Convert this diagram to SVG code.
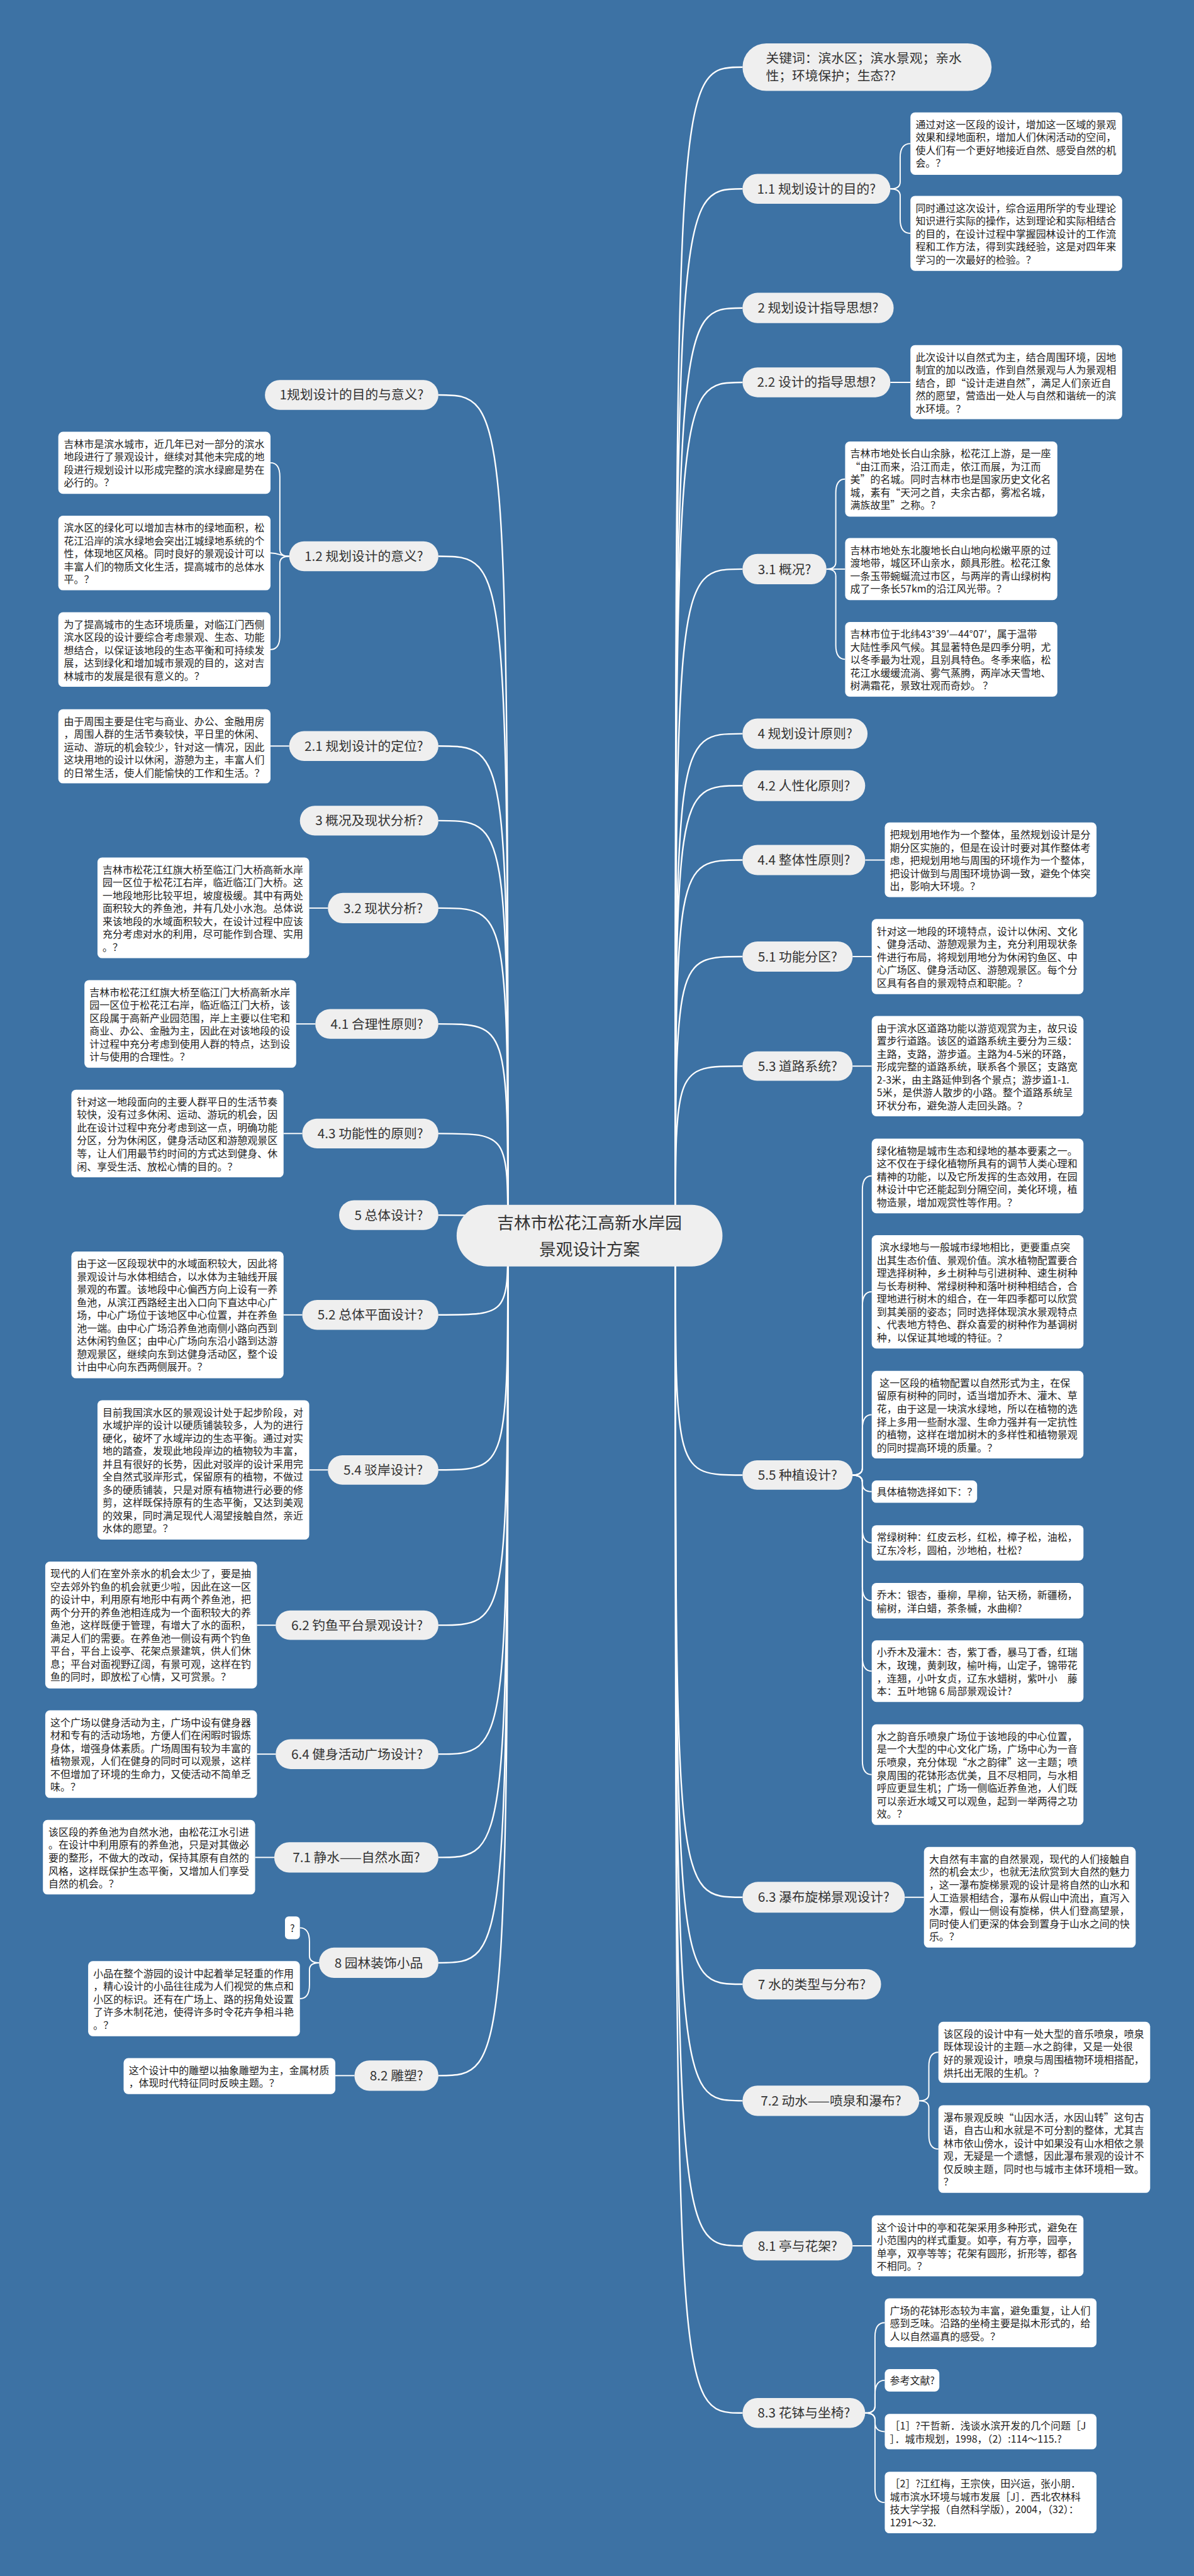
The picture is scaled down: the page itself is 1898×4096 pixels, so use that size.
<svg xmlns="http://www.w3.org/2000/svg" width="1898" height="4096" viewBox="0 0 1898 4096">
<style>
.main{fill:none;stroke:#fff;stroke-width:3.2}
.sub{fill:none;stroke:#fff;stroke-width:2.6}
.pill{fill:#efefef}
.leaf{fill:#fff}
.t1{font-family:"Noto Sans CJK SC","Noto Sans",sans-serif;font-size:28px;fill:#333;text-anchor:middle}
.tk{font-family:"Noto Sans CJK SC","Noto Sans",sans-serif;font-size:28px;fill:#333}
.tc{font-family:"Noto Sans CJK SC","Noto Sans",sans-serif;font-size:36px;fill:#333;text-anchor:middle}
.lt{font-family:"Noto Sans CJK SC","Noto Sans",sans-serif;font-size:21.5px;fill:#222}
</style>
<rect x="0" y="0" width="1898" height="4096" fill="#3d72a4"/>
<g transform="scale(0.74140625)">
<g id="connectors">
<path class="main" d="M1448,2650 C1448,144 1448,144 1592,144"/>
<path class="main" d="M1448,2650 C1448,405 1448,405 1592,405"/>
<path class="main" d="M1448,2650 C1448,660.5 1448,660.5 1592,660.5"/>
<path class="main" d="M1448,2650 C1448,820 1448,820 1592,820"/>
<path class="main" d="M1448,2650 C1448,1220.5 1448,1220.5 1592,1220.5"/>
<path class="main" d="M1448,2650 C1448,1573.5 1448,1573.5 1592,1573.5"/>
<path class="main" d="M1448,2650 C1448,1685 1448,1685 1592,1685"/>
<path class="main" d="M1448,2650 C1448,1844.5 1448,1844.5 1592,1844.5"/>
<path class="main" d="M1448,2650 C1448,2051.5 1448,2051.5 1592,2051.5"/>
<path class="main" d="M1448,2650 C1448,2286.5 1448,2286.5 1592,2286.5"/>
<path class="main" d="M1448,2650 C1448,3163.5 1448,3163.5 1592,3163.5"/>
<path class="main" d="M1448,2650 C1448,4069 1448,4069 1592,4069"/>
<path class="main" d="M1448,2650 C1448,4255.5 1448,4255.5 1592,4255.5"/>
<path class="main" d="M1448,2650 C1448,4505.5 1448,4505.5 1592,4505.5"/>
<path class="main" d="M1448,2650 C1448,4816.5 1448,4816.5 1592,4816.5"/>
<path class="main" d="M1448,2650 C1448,5175 1448,5175 1592,5175"/>
<path class="main" d="M1089,2650 C1089,847 1089,847 940,847"/>
<path class="main" d="M1089,2650 C1089,1193 1089,1193 940,1193"/>
<path class="main" d="M1089,2650 C1089,1600 1089,1600 940,1600"/>
<path class="main" d="M1089,2650 C1089,1760 1089,1760 940,1760"/>
<path class="main" d="M1089,2650 C1089,1947.5 1089,1947.5 940,1947.5"/>
<path class="main" d="M1089,2650 C1089,2196 1089,2196 940,2196"/>
<path class="main" d="M1089,2650 C1089,2431 1089,2431 940,2431"/>
<path class="main" d="M1089,2650 C1089,2606 1089,2606 940,2606"/>
<path class="main" d="M1089,2650 C1089,2820 1089,2820 940,2820"/>
<path class="main" d="M1089,2650 C1089,3152.5 1089,3152.5 940,3152.5"/>
<path class="main" d="M1089,2650 C1089,3485.5 1089,3485.5 940,3485.5"/>
<path class="main" d="M1089,2650 C1089,3762 1089,3762 940,3762"/>
<path class="main" d="M1089,2650 C1089,3983.5 1089,3983.5 940,3983.5"/>
<path class="main" d="M1089,2650 C1089,4209.5 1089,4209.5 940,4209.5"/>
<path class="main" d="M1089,2650 C1089,4451.5 1089,4451.5 940,4451.5"/>
<path class="sub" d="M1909,405 Q1930,405 1930,390 L1930,338 Q1930,308 1952,308"/>
<path class="sub" d="M1909,405 Q1930,405 1930,420 L1930,470.5 Q1930,500.5 1952,500.5"/>
<path class="sub" d="M1909,820 L1952,820"/>
<path class="sub" d="M1772,1220.5 Q1792,1220.5 1792,1205.5 L1792,1057.5 Q1792,1027.5 1812,1027.5"/>
<path class="sub" d="M1772,1220.5 L1812,1220.5"/>
<path class="sub" d="M1772,1220.5 Q1792,1220.5 1792,1235.5 L1792,1384 Q1792,1414 1812,1414"/>
<path class="sub" d="M1855,1844.5 L1897,1844.5"/>
<path class="sub" d="M1828,2051.5 L1869,2051.5"/>
<path class="sub" d="M1828,2286.5 L1869,2286.5"/>
<path class="sub" d="M1828,3163.5 Q1849,3163.5 1849,3148.5 L1849,2552 Q1849,2522 1869,2522"/>
<path class="sub" d="M1828,3163.5 Q1849,3163.5 1849,3148.5 L1849,2800.5 Q1849,2770.5 1869,2770.5"/>
<path class="sub" d="M1828,3163.5 Q1849,3163.5 1849,3148.5 L1849,3064 Q1849,3034 1869,3034"/>
<path class="sub" d="M1828,3163.5 Q1849,3163.5 1849,3178.5 L1849,3181 Q1849,3199 1869,3199"/>
<path class="sub" d="M1828,3163.5 Q1849,3163.5 1849,3178.5 L1849,3279 Q1849,3309 1869,3309"/>
<path class="sub" d="M1828,3163.5 Q1849,3163.5 1849,3178.5 L1849,3403 Q1849,3433 1869,3433"/>
<path class="sub" d="M1828,3163.5 Q1849,3163.5 1849,3178.5 L1849,3554 Q1849,3584 1869,3584"/>
<path class="sub" d="M1828,3163.5 Q1849,3163.5 1849,3178.5 L1849,3776 Q1849,3806 1869,3806"/>
<path class="sub" d="M1940,4069 L1981,4069"/>
<path class="sub" d="M1971,4505.5 Q1991.5,4505.5 1991.5,4490.5 L1991.5,4431.5 Q1991.5,4401.5 2012,4401.5"/>
<path class="sub" d="M1971,4505.5 Q1991.5,4505.5 1991.5,4520.5 L1991.5,4579 Q1991.5,4609 2012,4609"/>
<path class="sub" d="M1828,4816.5 L1869,4816.5"/>
<path class="sub" d="M1855,5175 Q1876,5175 1876,5160 L1876,5011.5 Q1876,4981.5 1897,4981.5"/>
<path class="sub" d="M1855,5175 Q1876,5175 1876,5160 L1876,5135 Q1876,5105 1897,5105"/>
<path class="sub" d="M1855,5175 Q1876,5175 1876,5190 L1876,5195 Q1876,5215 1897,5215"/>
<path class="sub" d="M1855,5175 Q1876,5175 1876,5190 L1876,5337 Q1876,5367 1897,5367"/>
<path class="sub" d="M620,1193 Q600,1193 600,1178 L600,1022.5 Q600,992.5 580,992.5"/>
<path class="sub" d="M620,1193 C600,1193 600,1186 580,1186"/>
<path class="sub" d="M620,1193 Q600,1193 600,1208 L600,1363 Q600,1393 580,1393"/>
<path class="sub" d="M620,1600 L580,1600"/>
<path class="sub" d="M703,1947.5 L663,1947.5"/>
<path class="sub" d="M676,2196 L635,2196"/>
<path class="sub" d="M648,2431 L608,2431"/>
<path class="sub" d="M648,2820 L608,2820"/>
<path class="sub" d="M703,3152.5 L663,3152.5"/>
<path class="sub" d="M591,3485.5 L551,3485.5"/>
<path class="sub" d="M591,3762 L551,3762"/>
<path class="sub" d="M588,3983.5 L547,3983.5"/>
<path class="sub" d="M684,4209.5 Q663.5,4209.5 663.5,4194.5 L663.5,4164.5 Q663.5,4134.5 643,4134.5"/>
<path class="sub" d="M684,4209.5 Q663.5,4209.5 663.5,4224.5 L663.5,4256.5 Q663.5,4286.5 643,4286.5"/>
<path class="sub" d="M760,4451.5 L719,4451.5"/>
</g>

<g id="center">
<rect class="pill" x="979" y="2584" width="570" height="132" rx="66"/>
<text class="tc" x="1264" y="2636">吉林市松花江高新水岸园</text>
<text class="tc" x="1264" y="2692">景观设计方案</text>
</g>

<g id="n-keywords">
<rect class="pill" x="1592" y="93" width="534" height="102" rx="51"/>
<text class="tk" x="1642" y="135">关键词：滨水区；滨水景观；亲水</text>
<text class="tk" x="1642" y="173">性；环境保护；生态??</text>
</g>

<g id="n-1-1">
<rect class="pill" x="1592" y="373" width="317" height="64" rx="32"/>
<text class="t1" x="1750.5" y="415">1.1 规划设计的目的?</text>
</g>
<g id="l-1-1a">
<rect class="leaf" x="1952" y="241" width="454" height="134" rx="10"/>
<text class="lt" x="1963" y="275"><tspan x="1963">通过对这一区段的设计，增加这一区域的景观</tspan><tspan x="1963" dy="27.7">效果和绿地面积，增加人们休闲活动的空间，</tspan><tspan x="1963" dy="27.7">使人们有一个更好地接近自然、感受自然的机</tspan><tspan x="1963" dy="27.7">会。？</tspan></text>
</g>
<g id="l-1-1b">
<rect class="leaf" x="1952" y="420" width="454" height="161" rx="10"/>
<text class="lt" x="1963" y="454"><tspan x="1963">同时通过这次设计，综合运用所学的专业理论</tspan><tspan x="1963" dy="27.7">知识进行实际的操作，达到理论和实际相结合</tspan><tspan x="1963" dy="27.7">的目的，在设计过程中掌握园林设计的工作流</tspan><tspan x="1963" dy="27.7">程和工作方法，得到实践经验，这是对四年来</tspan><tspan x="1963" dy="27.7">学习的一次最好的检验。？</tspan></text>
</g>

<g id="n-2">
<rect class="pill" x="1592" y="628" width="324" height="65" rx="32"/>
<text class="t1" x="1754" y="671">2 规划设计指导思想?</text>
</g>

<g id="n-2-2">
<rect class="pill" x="1592" y="788" width="317" height="64" rx="32"/>
<text class="t1" x="1750.5" y="830">2.2 设计的指导思想?</text>
</g>
<g id="l-2-2">
<rect class="leaf" x="1952" y="740" width="454" height="159" rx="10"/>
<text class="lt" x="1963" y="774"><tspan x="1963">此次设计以自然式为主，结合周围环境，因地</tspan><tspan x="1963" dy="27.7">制宜的加以改造，作到自然景观与人为景观相</tspan><tspan x="1963" dy="27.7">结合，即“设计走进自然”，满足人们亲近自</tspan><tspan x="1963" dy="27.7">然的愿望，营造出一处人与自然和谐统一的滨</tspan><tspan x="1963" dy="27.7">水环境。？</tspan></text>
</g>

<g id="n-3-1">
<rect class="pill" x="1592" y="1188" width="180" height="65" rx="32"/>
<text class="t1" x="1682" y="1231">3.1 概况?</text>
</g>
<g id="l-3-1a">
<rect class="leaf" x="1812" y="947" width="455" height="161" rx="10"/>
<text class="lt" x="1823" y="981"><tspan x="1823">吉林市地处长白山余脉，松花江上游，是一座</tspan><tspan x="1823" dy="27.7">“由江而来，沿江而走，依江而展，为江而</tspan><tspan x="1823" dy="27.7">美”的名城。同时吉林市也是国家历史文化名</tspan><tspan x="1823" dy="27.7">城，素有“天河之首，夫余古都，雾凇名城，</tspan><tspan x="1823" dy="27.7">满族故里”之称。？</tspan></text>
</g>
<g id="l-3-1b">
<rect class="leaf" x="1812" y="1154" width="455" height="133" rx="10"/>
<text class="lt" x="1823" y="1188"><tspan x="1823">吉林市地处东北腹地长白山地向松嫩平原的过</tspan><tspan x="1823" dy="27.7">渡地带，城区环山亲水，颇具形胜。松花江象</tspan><tspan x="1823" dy="27.7">一条玉带蜿蜒流过市区，与两岸的青山绿树构</tspan><tspan x="1823" dy="27.7">成了一条长57km的沿江风光带。？</tspan></text>
</g>
<g id="l-3-1c">
<rect class="leaf" x="1812" y="1334" width="455" height="160" rx="10"/>
<text class="lt" x="1823" y="1368"><tspan x="1823">吉林市位于北纬43°39′—44°07′，属于温带</tspan><tspan x="1823" dy="27.7">大陆性季风气候。其显著特色是四季分明，尤</tspan><tspan x="1823" dy="27.7">以冬季最为壮观，且别具特色。冬季来临，松</tspan><tspan x="1823" dy="27.7">花江水缓缓流淌、雾气蒸腾，两岸冰天雪地、</tspan><tspan x="1823" dy="27.7">树满霜花，景致壮观而奇妙。 ？</tspan></text>
</g>

<g id="n-4">
<rect class="pill" x="1592" y="1541" width="268" height="65" rx="32"/>
<text class="t1" x="1726" y="1584">4 规划设计原则?</text>
</g>
<g id="n-4-2">
<rect class="pill" x="1592" y="1652" width="263" height="66" rx="33"/>
<text class="t1" x="1723.5" y="1695">4.2 人性化原则?</text>
</g>
<g id="n-4-4">
<rect class="pill" x="1592" y="1812" width="263" height="65" rx="32"/>
<text class="t1" x="1723.5" y="1855">4.4 整体性原则?</text>
</g>
<g id="l-4-4">
<rect class="leaf" x="1897" y="1764" width="454" height="160" rx="10"/>
<text class="lt" x="1908" y="1798"><tspan x="1908">把规划用地作为一个整体，虽然规划设计是分</tspan><tspan x="1908" dy="27.7">期分区实施的，但是在设计时要对其作整体考</tspan><tspan x="1908" dy="27.7">虑，把规划用地与周围的环境作为一个整体，</tspan><tspan x="1908" dy="27.7">把设计做到与周围环境协调一致，避免个体突</tspan><tspan x="1908" dy="27.7">出，影响大环境。？</tspan></text>
</g>

<g id="n-5-1">
<rect class="pill" x="1592" y="2019" width="236" height="65" rx="32"/>
<text class="t1" x="1710" y="2062">5.1 功能分区?</text>
</g>
<g id="l-5-1">
<rect class="leaf" x="1869" y="1971" width="454" height="161" rx="10"/>
<text class="lt" x="1880" y="2005"><tspan x="1880">针对这一地段的环境特点，设计以休闲、文化</tspan><tspan x="1880" dy="27.7">、健身活动、游憩观景为主，充分利用现状条</tspan><tspan x="1880" dy="27.7">件进行布局，将规划用地分为休闲钓鱼区、中</tspan><tspan x="1880" dy="27.7">心广场区、健身活动区、游憩观景区。每个分</tspan><tspan x="1880" dy="27.7">区具有各自的景观特点和职能。？</tspan></text>
</g>

<g id="n-5-3">
<rect class="pill" x="1592" y="2255" width="236" height="63" rx="31"/>
<text class="t1" x="1710" y="2297">5.3 道路系统?</text>
</g>
<g id="l-5-3">
<rect class="leaf" x="1869" y="2179" width="454" height="215" rx="10"/>
<text class="lt" x="1880" y="2213"><tspan x="1880">由于滨水区道路功能以游览观赏为主，故只设</tspan><tspan x="1880" dy="27.7">置步行道路。该区的道路系统主要分为三级：</tspan><tspan x="1880" dy="27.7">主路，支路，游步道。主路为4-5米的环路，</tspan><tspan x="1880" dy="27.7">形成完整的道路系统，联系各个景区；支路宽</tspan><tspan x="1880" dy="27.7">2-3米，由主路延伸到各个景点；游步道1-1.</tspan><tspan x="1880" dy="27.7">5米，是供游人散步的小路。整个道路系统呈</tspan><tspan x="1880" dy="27.7">环状分布，避免游人走回头路。？</tspan></text>
</g>

<g id="n-5-5">
<rect class="pill" x="1592" y="3132" width="236" height="63" rx="31"/>
<text class="t1" x="1710" y="3174">5.5 种植设计?</text>
</g>
<g id="l-5-5a">
<rect class="leaf" x="1869" y="2442" width="454" height="160" rx="10"/>
<text class="lt" x="1880" y="2476"><tspan x="1880">绿化植物是城市生态和绿地的基本要素之一。</tspan><tspan x="1880" dy="27.7">这不仅在于绿化植物所具有的调节人类心理和</tspan><tspan x="1880" dy="27.7">精神的功能，以及它所发挥的生态效用，在园</tspan><tspan x="1880" dy="27.7">林设计中它还能起到分隔空间，美化环境，植</tspan><tspan x="1880" dy="27.7">物造景，增加观赏性等作用。？</tspan></text>
</g>
<g id="l-5-5b">
<rect class="leaf" x="1869" y="2649" width="454" height="243" rx="10"/>
<text class="lt" x="1880" y="2683"><tspan x="1886">滨水绿地与一般城市绿地相比，更要重点突</tspan><tspan x="1880" dy="27.7">出其生态价值、景观价值。滨水植物配置要合</tspan><tspan x="1880" dy="27.7">理选择树种，乡土树种与引进树种、速生树种</tspan><tspan x="1880" dy="27.7">与长寿树种、常绿树种和落叶树种相结合，合</tspan><tspan x="1880" dy="27.7">理地进行树木的组合，在一年四季都可以欣赏</tspan><tspan x="1880" dy="27.7">到其美丽的姿态；同时选择体现滨水景观特点</tspan><tspan x="1880" dy="27.7">、代表地方特色、群众喜爱的树种作为基调树</tspan><tspan x="1880" dy="27.7">种，以保证其地域的特征。？</tspan></text>
</g>
<g id="l-5-5c">
<rect class="leaf" x="1869" y="2940" width="454" height="188" rx="10"/>
<text class="lt" x="1880" y="2974"><tspan x="1886">这一区段的植物配置以自然形式为主，在保</tspan><tspan x="1880" dy="27.7">留原有树种的同时，适当增加乔木、灌木、草</tspan><tspan x="1880" dy="27.7">花，由于这是一块滨水绿地，所以在植物的选</tspan><tspan x="1880" dy="27.7">择上多用一些耐水湿、生命力强并有一定抗性</tspan><tspan x="1880" dy="27.7">的植物，这样在增加树木的多样性和植物景观</tspan><tspan x="1880" dy="27.7">的同时提高环境的质量。？</tspan></text>
</g>
<g id="l-5-5d">
<rect class="leaf" x="1869" y="3175" width="226" height="48" rx="10"/>
<text class="lt" x="1880" y="3207">具体植物选择如下：？</text>
</g>
<g id="l-5-5e">
<rect class="leaf" x="1869" y="3271" width="454" height="76" rx="10"/>
<text class="lt" x="1880" y="3305"><tspan x="1880">常绿树种：红皮云杉，红松，樟子松，油松，</tspan><tspan x="1880" dy="27.7">辽东冷杉，圆柏，沙地柏，杜松?</tspan></text>
</g>
<g id="l-5-5f">
<rect class="leaf" x="1869" y="3395" width="454" height="76" rx="10"/>
<text class="lt" x="1880" y="3429"><tspan x="1880">乔木：银杏，垂柳，旱柳，钻天杨，新疆杨，</tspan><tspan x="1880" dy="27.7">榆树，洋白蜡，茶条槭，水曲柳?</tspan></text>
</g>
<g id="l-5-5g">
<rect class="leaf" x="1869" y="3518" width="454" height="132" rx="10"/>
<text class="lt" x="1880" y="3552"><tspan x="1880">小乔木及灌木：杏，紫丁香，暴马丁香，红瑞</tspan><tspan x="1880" dy="27.7">木，玫瑰，黄刺玫，榆叶梅，山定子，锦带花</tspan><tspan x="1880" dy="27.7">，连翘，小叶女贞，辽东水蜡树，紫叶小　藤</tspan><tspan x="1880" dy="27.7">本：五叶地锦 6 局部景观设计?</tspan></text>
</g>
<g id="l-5-5h">
<rect class="leaf" x="1869" y="3698" width="454" height="216" rx="10"/>
<text class="lt" x="1880" y="3732"><tspan x="1880">水之韵音乐喷泉广场位于该地段的中心位置，</tspan><tspan x="1880" dy="27.7">是一个大型的中心文化广场，广场中心为一音</tspan><tspan x="1880" dy="27.7">乐喷泉，充分体现“水之韵律”这一主题；喷</tspan><tspan x="1880" dy="27.7">泉周围的花钵形态优美，且不尽相同，与水相</tspan><tspan x="1880" dy="27.7">呼应更显生机；广场一侧临近养鱼池，人们既</tspan><tspan x="1880" dy="27.7">可以亲近水域又可以观鱼，起到一举两得之功</tspan><tspan x="1880" dy="27.7">效。？</tspan></text>
</g>

<g id="n-6-3">
<rect class="pill" x="1592" y="4036" width="348" height="66" rx="33"/>
<text class="t1" x="1766" y="4079">6.3 瀑布旋梯景观设计?</text>
</g>
<g id="l-6-3">
<rect class="leaf" x="1981" y="3961" width="454" height="216" rx="10"/>
<text class="lt" x="1992" y="3995"><tspan x="1992">大自然有丰富的自然景观，现代的人们接触自</tspan><tspan x="1992" dy="27.7">然的机会太少，也就无法欣赏到大自然的魅力</tspan><tspan x="1992" dy="27.7">，这一瀑布旋梯景观的设计是将自然的山水和</tspan><tspan x="1992" dy="27.7">人工造景相结合，瀑布从假山中流出，直泻入</tspan><tspan x="1992" dy="27.7">水潭，假山一侧设有旋梯，供人们登高望景，</tspan><tspan x="1992" dy="27.7">同时使人们更深的体会到置身于山水之间的快</tspan><tspan x="1992" dy="27.7">乐。？</tspan></text>
</g>

<g id="n-7">
<rect class="pill" x="1592" y="4223" width="297" height="65" rx="32"/>
<text class="t1" x="1740.5" y="4266">7 水的类型与分布?</text>
</g>
<g id="n-7-2">
<rect class="pill" x="1592" y="4473" width="379" height="65" rx="32"/>
<text class="t1" x="1781.5" y="4516">7.2 动水——喷泉和瀑布?</text>
</g>
<g id="l-7-2a">
<rect class="leaf" x="2012" y="4336" width="454" height="131" rx="10"/>
<text class="lt" x="2023" y="4370"><tspan x="2023">该区段的设计中有一处大型的音乐喷泉，喷泉</tspan><tspan x="2023" dy="27.7">既体现设计的主题—水之韵律，又是一处很</tspan><tspan x="2023" dy="27.7">好的景观设计，喷泉与周围植物环境相搭配，</tspan><tspan x="2023" dy="27.7">烘托出无限的生机。？</tspan></text>
</g>
<g id="l-7-2b">
<rect class="leaf" x="2012" y="4515" width="454" height="188" rx="10"/>
<text class="lt" x="2023" y="4549"><tspan x="2023">瀑布景观反映“山因水活，水因山转”这句古</tspan><tspan x="2023" dy="27.7">语，自古山和水就是不可分割的整体，尤其吉</tspan><tspan x="2023" dy="27.7">林市依山傍水，设计中如果没有山水相依之景</tspan><tspan x="2023" dy="27.7">观，无疑是一个遗憾，因此瀑布景观的设计不</tspan><tspan x="2023" dy="27.7">仅反映主题，同时也与城市主体环境相一致。</tspan><tspan x="2023" dy="27.7">？</tspan></text>
</g>

<g id="n-8-1">
<rect class="pill" x="1592" y="4785" width="236" height="63" rx="31"/>
<text class="t1" x="1710" y="4827">8.1 亭与花架?</text>
</g>
<g id="l-8-1">
<rect class="leaf" x="1869" y="4751" width="454" height="131" rx="10"/>
<text class="lt" x="1880" y="4785"><tspan x="1880">这个设计中的亭和花架采用多种形式，避免在</tspan><tspan x="1880" dy="27.7">小范围内的样式重复。如亭，有方亭，园亭，</tspan><tspan x="1880" dy="27.7">单亭，双亭等等；花架有圆形，折形等，都各</tspan><tspan x="1880" dy="27.7">不相同。？</tspan></text>
</g>

<g id="n-8-3">
<rect class="pill" x="1592" y="5143" width="263" height="64" rx="32"/>
<text class="t1" x="1723.5" y="5185">8.3 花钵与坐椅?</text>
</g>
<g id="l-8-3a">
<rect class="leaf" x="1897" y="4929" width="454" height="105" rx="10"/>
<text class="lt" x="1908" y="4963"><tspan x="1908">广场的花钵形态较为丰富，避免重复，让人们</tspan><tspan x="1908" dy="27.7">感到乏味。沿路的坐椅主要是拟木形式的，给</tspan><tspan x="1908" dy="27.7">人以自然逼真的感受。？</tspan></text>
</g>
<g id="l-8-3b">
<rect class="leaf" x="1897" y="5081" width="117" height="48" rx="10"/>
<text class="lt" x="1908" y="5113">参考文献?</text>
</g>
<g id="l-8-3c">
<rect class="leaf" x="1897" y="5177" width="454" height="76" rx="10"/>
<text class="lt" x="1908" y="5211"><tspan x="1908">［1］?干哲新．浅谈水滨开发的几个问题［J</tspan><tspan x="1908" dy="27.7">］．城市规划，1998，（2）:114～115.?</tspan></text>
</g>
<g id="l-8-3d">
<rect class="leaf" x="1897" y="5301" width="454" height="132" rx="10"/>
<text class="lt" x="1908" y="5335"><tspan x="1908">［2］?江红梅，王宗侠，田兴运，张小朋．</tspan><tspan x="1908" dy="27.7">城市滨水环境与城市发展［J］．西北农林科</tspan><tspan x="1908" dy="27.7">技大学学报（自然科学版），2004，（32）：</tspan><tspan x="1908" dy="27.7">1291～32.</tspan></text>
</g>

<g id="n-1">
<rect class="pill" x="568" y="815" width="372" height="64" rx="32"/>
<text class="t1" x="754" y="857">1规划设计的目的与意义?</text>
</g>
<g id="n-1-2">
<rect class="pill" x="620" y="1161" width="320" height="64" rx="32"/>
<text class="t1" x="780" y="1203">1.2 规划设计的意义?</text>
</g>
<g id="l-1-2a">
<rect class="leaf" x="125" y="926" width="455" height="133" rx="10"/>
<text class="lt" x="137" y="960"><tspan x="137">吉林市是滨水城市，近几年已对一部分的滨水</tspan><tspan x="137" dy="27.7">地段进行了景观设计，继续对其他未完成的地</tspan><tspan x="137" dy="27.7">段进行规划设计以形成完整的滨水绿廊是势在</tspan><tspan x="137" dy="27.7">必行的。？</tspan></text>
</g>
<g id="l-1-2b">
<rect class="leaf" x="125" y="1106" width="455" height="160" rx="10"/>
<text class="lt" x="137" y="1140"><tspan x="137">滨水区的绿化可以增加吉林市的绿地面积，松</tspan><tspan x="137" dy="27.7">花江沿岸的滨水绿地会突出江城绿地系统的个</tspan><tspan x="137" dy="27.7">性，体现地区风格。同时良好的景观设计可以</tspan><tspan x="137" dy="27.7">丰富人们的物质文化生活，提高城市的总体水</tspan><tspan x="137" dy="27.7">平。？</tspan></text>
</g>
<g id="l-1-2c">
<rect class="leaf" x="125" y="1313" width="455" height="160" rx="10"/>
<text class="lt" x="137" y="1347"><tspan x="137">为了提高城市的生态环境质量，对临江门西侧</tspan><tspan x="137" dy="27.7">滨水区段的设计要综合考虑景观、生态、功能</tspan><tspan x="137" dy="27.7">想结合，以保证该地段的生态平衡和可持续发</tspan><tspan x="137" dy="27.7">展，达到绿化和增加城市景观的目的，这对吉</tspan><tspan x="137" dy="27.7">林城市的发展是很有意义的。？</tspan></text>
</g>

<g id="n-2-1">
<rect class="pill" x="620" y="1568" width="320" height="64" rx="32"/>
<text class="t1" x="780" y="1610">2.1 规划设计的定位?</text>
</g>
<g id="l-2-1">
<rect class="leaf" x="125" y="1521" width="455" height="159" rx="10"/>
<text class="lt" x="137" y="1555"><tspan x="137">由于周围主要是住宅与商业、办公、金融用房</tspan><tspan x="137" dy="27.7">，周围人群的生活节奏较快，平日里的休闲、</tspan><tspan x="137" dy="27.7">运动、游玩的机会较少，针对这一情况，因此</tspan><tspan x="137" dy="27.7">这块用地的设计以休闲，游憩为主，丰富人们</tspan><tspan x="137" dy="27.7">的日常生活，使人们能愉快的工作和生活。？</tspan></text>
</g>

<g id="n-3">
<rect class="pill" x="643" y="1728" width="297" height="64" rx="32"/>
<text class="t1" x="791.5" y="1770">3 概况及现状分析?</text>
</g>
<g id="n-3-2">
<rect class="pill" x="703" y="1915" width="237" height="65" rx="32"/>
<text class="t1" x="821.5" y="1958">3.2 现状分析?</text>
</g>
<g id="l-3-2">
<rect class="leaf" x="209" y="1839" width="454" height="216" rx="10"/>
<text class="lt" x="220" y="1873"><tspan x="220">吉林市松花江红旗大桥至临江门大桥高新水岸</tspan><tspan x="220" dy="27.7">园一区位于松花江右岸，临近临江门大桥。这</tspan><tspan x="220" dy="27.7">一地段地形比较平坦，坡度极缓。其中有两处</tspan><tspan x="220" dy="27.7">面积较大的养鱼池，并有几处小水泡。总体说</tspan><tspan x="220" dy="27.7">来该地段的水域面积较大，在设计过程中应该</tspan><tspan x="220" dy="27.7">充分考虑对水的利用，尽可能作到合理、实用</tspan><tspan x="220" dy="27.7">。？</tspan></text>
</g>

<g id="n-4-1">
<rect class="pill" x="676" y="2164" width="264" height="64" rx="32"/>
<text class="t1" x="808" y="2206">4.1 合理性原则?</text>
</g>
<g id="l-4-1">
<rect class="leaf" x="181" y="2102" width="454" height="188" rx="10"/>
<text class="lt" x="192" y="2136"><tspan x="192">吉林市松花江红旗大桥至临江门大桥高新水岸</tspan><tspan x="192" dy="27.7">园一区位于松花江右岸，临近临江门大桥，该</tspan><tspan x="192" dy="27.7">区段属于高新产业园范围，岸上主要以住宅和</tspan><tspan x="192" dy="27.7">商业、办公、金融为主，因此在对该地段的设</tspan><tspan x="192" dy="27.7">计过程中充分考虑到使用人群的特点，达到设</tspan><tspan x="192" dy="27.7">计与使用的合理性。？</tspan></text>
</g>

<g id="n-4-3">
<rect class="pill" x="648" y="2399" width="292" height="64" rx="32"/>
<text class="t1" x="794" y="2441">4.3 功能性的原则?</text>
</g>
<g id="l-4-3">
<rect class="leaf" x="153" y="2337" width="455" height="188" rx="10"/>
<text class="lt" x="165" y="2371"><tspan x="165">针对这一地段面向的主要人群平日的生活节奏</tspan><tspan x="165" dy="27.7">较快，没有过多休闲、运动、游玩的机会，因</tspan><tspan x="165" dy="27.7">此在设计过程中充分考虑到这一点，明确功能</tspan><tspan x="165" dy="27.7">分区，分为休闲区，健身活动区和游憩观景区</tspan><tspan x="165" dy="27.7">等，让人们用最节约时间的方式达到健身、休</tspan><tspan x="165" dy="27.7">闲、享受生活、放松心情的目的。？</tspan></text>
</g>

<g id="n-5">
<rect class="pill" x="727" y="2574" width="213" height="64" rx="32"/>
<text class="t1" x="833.5" y="2616">5 总体设计?</text>
</g>
<g id="n-5-2">
<rect class="pill" x="648" y="2788" width="292" height="64" rx="32"/>
<text class="t1" x="794" y="2830">5.2 总体平面设计?</text>
</g>
<g id="l-5-2">
<rect class="leaf" x="153" y="2684" width="455" height="272" rx="10"/>
<text class="lt" x="165" y="2718"><tspan x="165">由于这一区段现状中的水域面积较大，因此将</tspan><tspan x="165" dy="27.7">景观设计与水体相结合，以水体为主轴线开展</tspan><tspan x="165" dy="27.7">景观的布置。该地段中心偏西方向上设有一养</tspan><tspan x="165" dy="27.7">鱼池，从滨江西路经主出入口向下直达中心广</tspan><tspan x="165" dy="27.7">场，中心广场位于该地区中心位置，并在养鱼</tspan><tspan x="165" dy="27.7">池一端。由中心广场沿养鱼池南侧小路向西到</tspan><tspan x="165" dy="27.7">达休闲钓鱼区；由中心广场向东沿小路到达游</tspan><tspan x="165" dy="27.7">憩观景区，继续向东到达健身活动区，整个设</tspan><tspan x="165" dy="27.7">计由中心向东西两侧展开。？</tspan></text>
</g>

<g id="n-5-4">
<rect class="pill" x="703" y="3121" width="237" height="63" rx="31"/>
<text class="t1" x="821.5" y="3163">5.4 驳岸设计?</text>
</g>
<g id="l-5-4">
<rect class="leaf" x="209" y="3003" width="454" height="299" rx="10"/>
<text class="lt" x="220" y="3037"><tspan x="220">目前我国滨水区的景观设计处于起步阶段，对</tspan><tspan x="220" dy="27.7">水域护岸的设计以硬质铺装较多，人为的进行</tspan><tspan x="220" dy="27.7">硬化，破坏了水域岸边的生态平衡。通过对实</tspan><tspan x="220" dy="27.7">地的踏查，发现此地段岸边的植物较为丰富，</tspan><tspan x="220" dy="27.7">并且有很好的长势，因此对驳岸的设计采用完</tspan><tspan x="220" dy="27.7">全自然式驳岸形式，保留原有的植物，不做过</tspan><tspan x="220" dy="27.7">多的硬质铺装，只是对原有植物进行必要的修</tspan><tspan x="220" dy="27.7">剪，这样既保持原有的生态平衡，又达到美观</tspan><tspan x="220" dy="27.7">的效果，同时满足现代人渴望接触自然，亲近</tspan><tspan x="220" dy="27.7">水体的愿望。？</tspan></text>
</g>

<g id="n-6-2">
<rect class="pill" x="591" y="3454" width="349" height="63" rx="31"/>
<text class="t1" x="765.5" y="3496">6.2 钓鱼平台景观设计?</text>
</g>
<g id="l-6-2">
<rect class="leaf" x="97" y="3349" width="454" height="272" rx="10"/>
<text class="lt" x="108" y="3383"><tspan x="108">现代的人们在室外亲水的机会太少了，要是抽</tspan><tspan x="108" dy="27.7">空去郊外钓鱼的机会就更少啦，因此在这一区</tspan><tspan x="108" dy="27.7">的设计中，利用原有地形中有两个养鱼池，把</tspan><tspan x="108" dy="27.7">两个分开的养鱼池相连成为一个面积较大的养</tspan><tspan x="108" dy="27.7">鱼池，这样既便于管理，有增大了水的面积，</tspan><tspan x="108" dy="27.7">满足人们的需要。在养鱼池一侧设有两个钓鱼</tspan><tspan x="108" dy="27.7">平台，平台上设亭、花架点景建筑，供人们休</tspan><tspan x="108" dy="27.7">息；平台对面视野辽阔，有景可观，这样在钓</tspan><tspan x="108" dy="27.7">鱼的同时，即放松了心情，又可赏景。？</tspan></text>
</g>

<g id="n-6-4">
<rect class="pill" x="591" y="3730" width="349" height="64" rx="32"/>
<text class="t1" x="765.5" y="3772">6.4 健身活动广场设计?</text>
</g>
<g id="l-6-4">
<rect class="leaf" x="97" y="3668" width="454" height="188" rx="10"/>
<text class="lt" x="108" y="3702"><tspan x="108">这个广场以健身活动为主，广场中设有健身器</tspan><tspan x="108" dy="27.7">材和专有的活动场地，方便人们在闲暇时锻炼</tspan><tspan x="108" dy="27.7">身体，增强身体素质。广场周围有较为丰富的</tspan><tspan x="108" dy="27.7">植物景观，人们在健身的同时可以观景，这样</tspan><tspan x="108" dy="27.7">不但增加了环境的生命力，又使活动不简单乏</tspan><tspan x="108" dy="27.7">味。？</tspan></text>
</g>

<g id="n-7-1">
<rect class="pill" x="588" y="3951" width="352" height="65" rx="32"/>
<text class="t1" x="764" y="3994">7.1 静水——自然水面?</text>
</g>
<g id="l-7-1">
<rect class="leaf" x="92" y="3903" width="455" height="160" rx="10"/>
<text class="lt" x="104" y="3937"><tspan x="104">该区段的养鱼池为自然水池，由松花江水引进</tspan><tspan x="104" dy="27.7">。在设计中利用原有的养鱼池，只是对其做必</tspan><tspan x="104" dy="27.7">要的整形，不做大的改动，保持其原有自然的</tspan><tspan x="104" dy="27.7">风格，这样既保护生态平衡，又增加人们享受</tspan><tspan x="104" dy="27.7">自然的机会。？</tspan></text>
</g>

<g id="n-8">
<rect class="pill" x="684" y="4177" width="256" height="65" rx="32"/>
<text class="t1" x="812" y="4220">8 园林装饰小品</text>
</g>
<g id="l-8a">
<rect class="leaf" x="611" y="4110" width="32" height="49" rx="8"/>
<text class="lt" x="627" y="4143" text-anchor="middle">?</text>
</g>
<g id="l-8b">
<rect class="leaf" x="189" y="4206" width="454" height="161" rx="10"/>
<text class="lt" x="200" y="4240"><tspan x="200">小品在整个游园的设计中起着举足轻重的作用</tspan><tspan x="200" dy="27.7">，精心设计的小品往往成为人们视觉的焦点和</tspan><tspan x="200" dy="27.7">小区的标识。还有在广场上、路的拐角处设置</tspan><tspan x="200" dy="27.7">了许多木制花池，使得许多时令花卉争相斗艳</tspan><tspan x="200" dy="27.7">。？</tspan></text>
</g>

<g id="n-8-2">
<rect class="pill" x="760" y="4419" width="180" height="65" rx="32"/>
<text class="t1" x="850" y="4462">8.2 雕塑?</text>
</g>
<g id="l-8-2">
<rect class="leaf" x="265" y="4414" width="454" height="77" rx="10"/>
<text class="lt" x="276" y="4448"><tspan x="276">这个设计中的雕塑以抽象雕塑为主，金属材质</tspan><tspan x="276" dy="27.7">，体现时代特征同时反映主题。？</tspan></text>
</g>
</g>
</svg>
